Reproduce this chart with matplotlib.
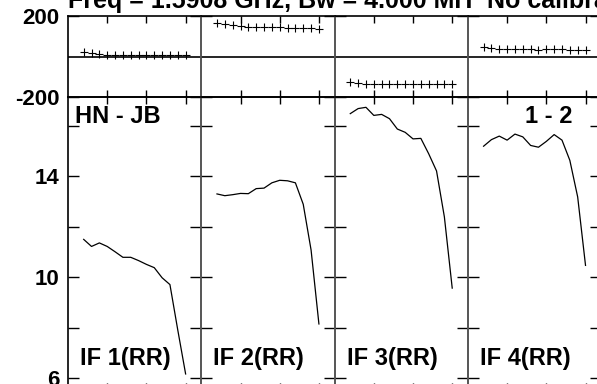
import matplotlib
matplotlib.use("Agg")
import matplotlib.pyplot as plt
import numpy as np

plt.rcParams['font.family'] = ['Liberation Sans', 'DejaVu Sans']
plt.rcParams['font.weight'] = 'bold'
plt.rcParams['axes.unicode_minus'] = False

# channels plotted in each IF
channels = list(range(2, 16))

# phase (degrees) per IF
phase_if1 = [20, 15, 10, 8, 8, 8, 8, 8, 8, 8, 8, 8, 8, 8]
phase_if2 = [167, 159, 154, 150, 148, 147, 146, 145, 144, 143, 142, 141, 140, 136]
phase_if3 = [-124, -133, -136, -137, -137, -137, -137, -137, -136, -136, -135, -134, -134, -136]
phase_if4 = [48, 40, 37, 35, 35, 35, 35, 34, 35, 35, 35, 34, 34, 34]

# amplitude per IF
amp_if1 = [11.49, 11.21, 11.35, 11.21, 11.00, 10.78, 10.78, 10.65, 10.50, 10.37, 9.97, 9.70, 7.9, 6.16]
amp_if2 = [13.29, 13.22, 13.26, 13.31, 13.30, 13.50, 13.52, 13.73, 13.83, 13.81, 13.73, 12.88, 11.07, 8.14]
amp_if3 = [16.47, 16.67, 16.72, 16.40, 16.44, 16.27, 15.86, 15.73, 15.47, 15.49, 14.88, 14.20, 12.38, 9.56]
amp_if4 = [15.18, 15.44, 15.58, 15.42, 15.66, 15.55, 15.21, 15.14, 15.37, 15.64, 15.42, 14.62, 13.17, 10.46]

phases = [phase_if1, phase_if2, phase_if3, phase_if4]
amps = [amp_if1, amp_if2, amp_if3, amp_if4]
if_labels = ['IF 1(RR)', 'IF 2(RR)', 'IF 3(RR)', 'IF 4(RR)']

W, H = 597, 384
fig = plt.figure(figsize=(W / 100, H / 100), dpi=100)


def box(x0, y0, x1, y1):
    return [x0 / W, 1 - y1 / H, (x1 - x0) / W, (y1 - y0) / H]


left = 68
pw = 133.3
ph_top, ph_bot = 16, 97
amp_bot = 390
amp_hi = 10 + (277 - ph_bot) / 25.25
amp_lo = 10 - (amp_bot - 277) / 25.25
fs = 17
grey = '#555555'

for i in range(4):
    x0 = left + i * pw
    x1 = x0 + pw

    axp = fig.add_axes(box(x0, ph_top, x1, ph_bot))
    axa = fig.add_axes(box(x0, ph_bot, x1, amp_bot))

    for ax in (axp, axa):
        ax.set_xlim(0, 17)
        ax.set_xticks([5, 10, 15])
        ax.tick_params(axis='x', direction='in', top=True, bottom=True,
                       length=5, width=1, color='black', labelbottom=False)
        ax.tick_params(axis='y', direction='in', left=True, right=True,
                       length=8, width=1, color='black', labelsize=16,
                       pad=6)
        ax.spines['top'].set_color('black')
        ax.spines['bottom'].set_color('black')
        ax.spines['left'].set_color('black' if i == 0 else grey)
        ax.spines['right'].set_color(grey)
        for s in ax.spines.values():
            s.set_linewidth(1.2)
        ax.patch.set_alpha(0)

    axp.axhline(0, color='black', lw=1.2)
    axp.plot(channels, phases[i], '+', color='black', ms=6, mew=0.8)
    axp.set_ylim(-200, 200)
    axp.set_yticks([-200, 200])

    axa.plot(channels, amps[i], '-', color='black', lw=0.9)
    axa.set_ylim(amp_lo, amp_hi)
    axa.set_yticks([6, 8, 10, 12, 14, 16])
    axa.set_yticklabels(['6', '', '10', '', '14', ''])

    if i > 0:
        axp.tick_params(labelleft=False)
        axa.tick_params(labelleft=False)
    else:
        for lab in axp.get_yticklabels() + axa.get_yticklabels():
            lab.set_fontweight('bold')

    axa.text(12 / pw, (amp_bot - 365) / (amp_bot - ph_bot), if_labels[i],
             transform=axa.transAxes, fontsize=fs, fontweight='bold',
             ha='left', va='baseline')

    if i == 0:
        axa.text(7 / pw, 1 - 26 / (amp_bot - ph_bot), 'HN - JB',
                 transform=axa.transAxes, fontsize=fs, fontweight='bold',
                 ha='left', va='baseline')
    if i == 3:
        axa.text(105 / pw, 1 - 26 / (amp_bot - ph_bot), '1 - 2',
                 transform=axa.transAxes, fontsize=fs, fontweight='bold',
                 ha='right', va='baseline')

fig.text(68 / W, 1 - 8 / H, 'Freq = 1.5908 GHz, Bw = 4.000 MH',
         fontsize=18, fontweight='bold', ha='left', va='baseline')
fig.text(487 / W, 1 - 8 / H, 'No calibration',
         fontsize=18, fontweight='bold', ha='left', va='baseline')

fig.savefig('out.png', dpi=100)
